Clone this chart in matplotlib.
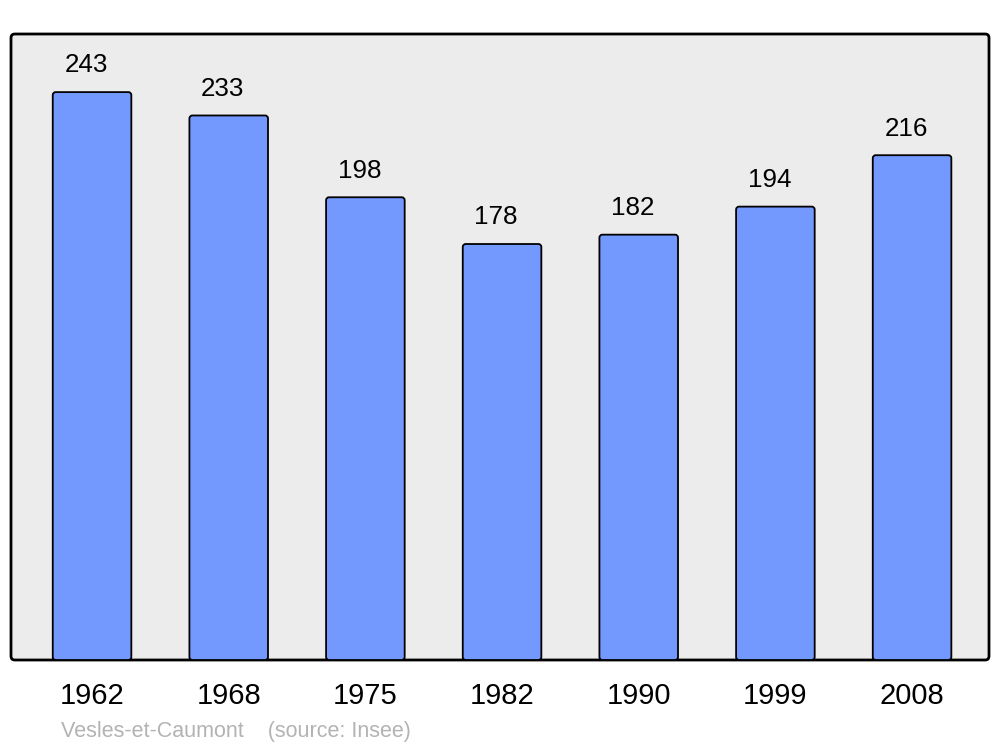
import matplotlib
matplotlib.use("Agg")
import matplotlib.pyplot as plt
from matplotlib.patches import FancyBboxPatch

years = ["1962", "1968", "1975", "1982", "1990", "1999", "2008"]
population = [243, 233, 198, 178, 182, 194, 216]
footer = "Vesles-et-Caumont    (source: Insee)"

W, H = 1000, 747
fig = plt.figure(figsize=(W / 100, H / 100), dpi=100)
plt.rcParams['font.family'] = ['Liberation Sans', 'DejaVu Sans']

ax_l, ax_r, ax_t, ax_b = 11, 989, 34, 660
ax = fig.add_axes([ax_l / W, (H - ax_b) / H, (ax_r - ax_l) / W, (ax_b - ax_t) / H])
ax.set_facecolor('none')
for s in ax.spines.values():
    s.set_visible(False)

# background panel
bg = FancyBboxPatch((0, 0), 1, 1, boxstyle="round,pad=0,rounding_size=0.004",
                    transform=ax.transAxes, facecolor='#ececec', edgecolor='black',
                    linewidth=2, mutation_aspect=(ax_r - ax_l) / (ax_b - ax_t),
                    zorder=0, clip_on=False)
ax.add_patch(bg)

x = list(range(len(years)))
ax.set_xlim(-0.593, 6.563)
ax.set_ylim(0, (ax_b - ax_t) / 2.337)

bars = ax.bar(x, population, width=0.575, color='none', edgecolor='none')
px_x = (ax_r - ax_l) / (6.563 + 0.593)
px_y = 2.337
for b, v in zip(bars, population):
    p = FancyBboxPatch((b.get_x(), 0), b.get_width(), b.get_height(),
                       boxstyle="round,pad=0,rounding_size=%f" % (3 / px_x),
                       mutation_aspect=px_x / px_y,
                       facecolor='#7399ff', edgecolor='black', linewidth=1.3, zorder=2)
    ax.add_patch(p)
    ax.annotate(str(v), (b.get_x() + b.get_width() / 2, v), xytext=(-4.3, 19.2),
                textcoords='offset points', ha='center', va='center', fontsize=18.7,
                color='black')

ax.set_xticks(x)
ax.set_xticklabels(years, fontsize=21)
ax.tick_params(axis='x', length=0, pad=16)
ax.set_yticks([])

fig.text(61 / W, 1 - 731 / H, footer, fontsize=15.5, color='#b3b3b3', ha='left', va='center')

fig.savefig("out.png", dpi=100)
